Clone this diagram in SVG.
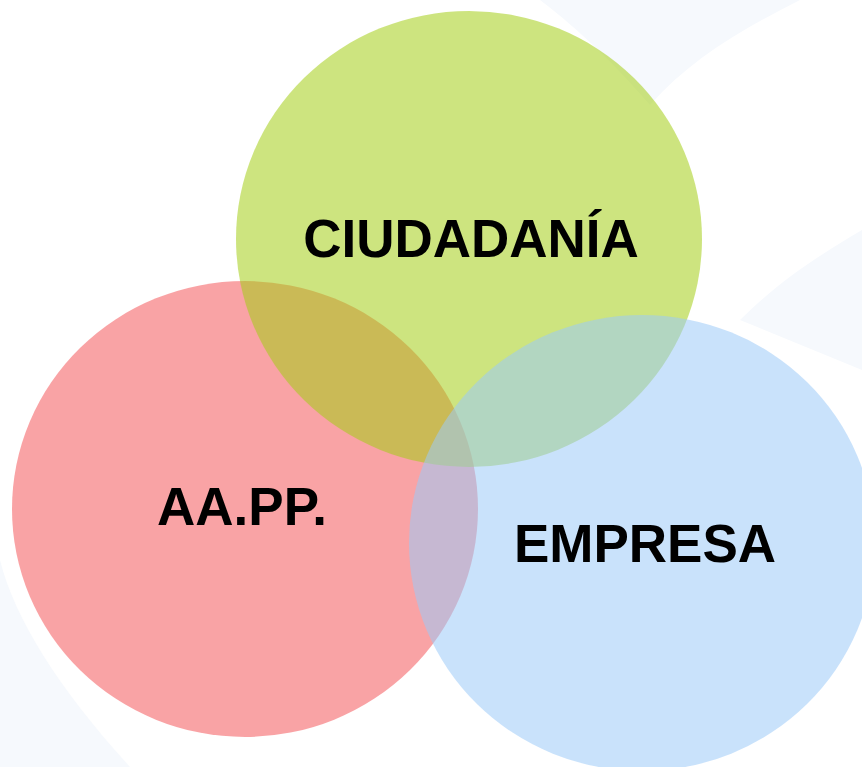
<svg xmlns="http://www.w3.org/2000/svg" width="862" height="767" viewBox="0 0 862 767">
  <style>
    .lbl { font-family: "Liberation Sans", Arial, sans-serif; font-weight: bold; font-size: 53px; fill: #000; text-anchor: middle; }
    .bgtint { fill: #f6f9fd; }
  </style>
  <rect width="862" height="767" fill="#ffffff"/>
  <g id="background">
    <path class="bgtint" d="M540 0 L800 0 C740 30 690 60 650 105 C620 70 580 30 540 0 Z"/>
    <path class="bgtint" d="M862 230 C820 255 780 280 740 320 L862 370 Z"/>
    <path class="bgtint" d="M0 560 C15 620 60 690 130 767 L0 767 Z"/>
  </g>
  <g id="aapp">
    <ellipse cx="245" cy="509" rx="233" ry="228" fill="#f4585b" fill-opacity="0.55"/>
  </g>
  <g id="ciudadania">
    <ellipse cx="469" cy="239" rx="233" ry="228" fill="#a4ce16" fill-opacity="0.55"/>
  </g>
  <g id="empresa">
    <ellipse cx="642" cy="543" rx="233" ry="228" fill="#9dcaf8" fill-opacity="0.55"/>
  </g>
  <g id="labels">
    <text class="lbl" x="471" y="257">CIUDADANÍA</text>
    <text class="lbl" x="242" y="525">AA.PP.</text>
    <text class="lbl" x="645" y="562">EMPRESA</text>
  </g>
  <g id="connectors"/>
</svg>
